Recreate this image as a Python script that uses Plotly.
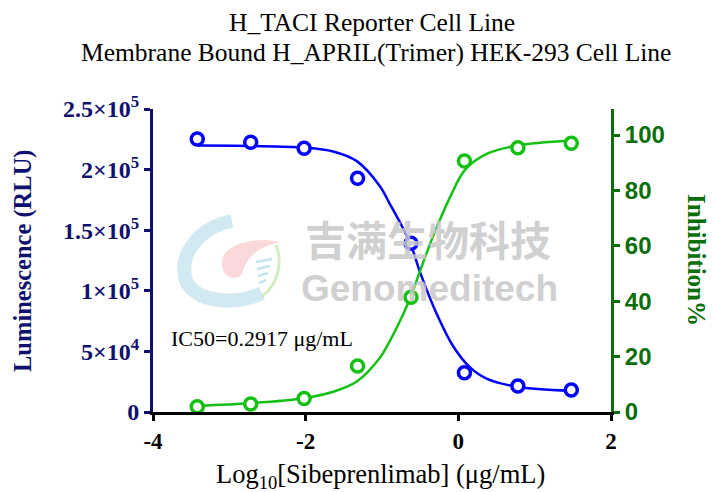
import plotly.graph_objects as go

# ---------------- data ----------------
log_conc = [-3.42, -2.72, -2.02, -1.32, -0.62, 0.08, 0.78, 1.48]
luminescence = [225200, 222500, 217600, 192800, 139200, 32400, 21450, 18150]
inhibition = [1.9, 2.9, 4.9, 16.6, 41.4, 90.6, 95.4, 97.0]

# fitted curves
blue_fit_x = [-3.41, -2.73, -2.02, -1.64, -1.33, -1.03, -0.90, -0.72, -0.61, -0.50, -0.28, -0.07, 0.15, 0.37, 0.77, 1.46]
blue_fit_y = [219800, 219500, 218200, 215000, 207000, 186500, 172000, 151000, 136000, 115000, 80500, 54500, 37000, 27500, 20800, 17500]
green_fit_x = [-3.41, -2.73, -2.02, -1.64, -1.33, -1.03, -0.90, -0.72, -0.61, -0.52, -0.33, -0.11, 0.09, 0.37, 0.77, 1.46]
green_fit_y = [2.3, 3.2, 5.0, 7.3, 11.0, 19.5, 25.5, 35.5, 42.5, 49.5, 63.5, 77.5, 87.5, 93.2, 96.2, 97.9]

x_ticks = [-4, -2, 0, 2]
x_ticklabels = ["-4", "-2", "0", "2"]
left_ticks = [0, 50000, 100000, 150000, 200000, 250000]
left_ticklabels = ["0", "5×10<sup>4</sup>", "1×10<sup>5</sup>", "1.5×10<sup>5</sup>", "2×10<sup>5</sup>", "2.5×10<sup>5</sup>"]
right_ticks = [0, 20, 40, 60, 80, 100]
right_ticklabels = ["0", "20", "40", "60", "80", "100"]

title_line1 = "H_TACI Reporter Cell Line"
title_line2 = "Membrane Bound H_APRIL(Trimer) HEK-293 Cell Line"
x_title = "Log<sub>10</sub>[Sibeprenlimab] (μg/mL)"
left_title = "Luminescence (RLU)"
right_title = "Inhibition%"
ic50_text = "IC50=0.2917 μg/mL"

# ---------------- style ----------------
W, H = 712, 492
L, R, T, B = 153, 611, 109, 412
SERIF = "Liberation Serif, Times New Roman, serif"
SANS = "Liberation Sans, Arial, sans-serif"
NAVY = "#10106e"
DKGREEN = "#0a6e0a"
BLUE = "#0000ff"
GREEN = "#14c014"


def px(x, y):
    return (x - L) / (R - L), (B - y) / (B - T)


def ann(text, x, y, size, color="black", family=SERIF, angle=0, xanchor="center", yanchor="middle"):
    ax, ay = px(x, y)
    return dict(text=text, x=ax, y=ay, xref="paper", yref="paper", showarrow=False,
                font=dict(family=family, size=size, color=color), textangle=angle,
                xanchor=xanchor, yanchor=yanchor)


def path(cmds):
    out = []
    for c in cmds:
        if isinstance(c, str):
            out.append(c)
        else:
            a, b = px(*c)
            out.append(f"{a:.4f},{b:.4f}")
    return " ".join(out)


fig = go.Figure()

fig.add_trace(go.Scatter(x=blue_fit_x, y=blue_fit_y, mode="lines", line=dict(color=BLUE, width=2.5, shape="spline", smoothing=1.0),
                         yaxis="y", showlegend=False, hoverinfo="skip"))
fig.add_trace(go.Scatter(x=green_fit_x, y=green_fit_y, mode="lines", line=dict(color=GREEN, width=2.5, shape="spline", smoothing=1.0),
                         yaxis="y2", showlegend=False, hoverinfo="skip"))
fig.add_trace(go.Scatter(x=log_conc, y=luminescence, mode="markers", yaxis="y", showlegend=False,
                         marker=dict(symbol="circle", size=12, color="white", line=dict(color=BLUE, width=3.5))))
fig.add_trace(go.Scatter(x=log_conc, y=inhibition, mode="markers", yaxis="y2", showlegend=False,
                         marker=dict(symbol="circle", size=12, color="white", line=dict(color=GREEN, width=3.5))))

shapes = [
    # watermark logo: light blue crescent
    dict(type="path", xref="paper", yref="paper", layer="below",
         path=path(["M", (232, 221), "C", (198, 228), (178, 255), (186, 281), "C", (196, 302), (235, 306), (262, 293)]),
         line=dict(color="rgba(190,225,236,0.7)", width=14)),
    # pink swoosh
    dict(type="path", xref="paper", yref="paper", layer="below",
         path=path(["M", (222, 265), "C", (220, 246), (248, 236), (281, 242), "C", (258, 246), (246, 258), (242, 274),
                    "C", (236, 281), (223, 278), (222, 265), "Z"]),
         fillcolor="rgba(244,180,180,0.5)", line=dict(width=0)),
    # green thin arc
    dict(type="path", xref="paper", yref="paper", layer="below",
         path=path(["M", (276, 245), "C", (283, 262), (278, 285), (262, 296)]),
         line=dict(color="rgba(200,230,180,0.8)", width=3)),
]
for i, yy in enumerate([262, 269, 276, 283]):
    shapes.append(dict(type="line", xref="paper", yref="paper", layer="below",
                       x0=px(256 + i, yy)[0], y0=px(256, yy)[1], x1=px(272 - i * 2, yy - 3)[0], y1=px(272, yy - 3)[1],
                       line=dict(color="rgba(180,220,235,0.8)", width=2.5)))

annotations = [
    ann(title_line1, 372, 23, 25.5),
    ann(title_line2, 376, 53, 25.5),
    ann("<b>" + left_title + "</b>", 23, 261, 24.5, color=NAVY, angle=-90),
    ann("<b>" + right_title + "</b>", 697, 260, 25, color=DKGREEN, angle=90),
    ann(x_title, 380, 476, 26.5),
    ann(ic50_text, 169, 338, 22, xanchor="left"),
    ann("<b>吉满生物科技</b>", 428, 238, 41, color="rgba(200,200,200,0.85)", family="Noto Sans CJK SC"),
    ann("<b>Genomeditech</b>", 429, 288, 37, color="rgba(200,200,200,0.85)", family=SANS),
]

fig.update_layout(
    width=W, height=H,
    margin=dict(l=L, r=W - R, t=T, b=H - B, pad=0),
    paper_bgcolor="white", plot_bgcolor="rgba(0,0,0,0)",
    showlegend=False,
    xaxis=dict(range=[-4, 2], tickvals=x_ticks, ticktext=["<b>" + t + "</b>" for t in x_ticklabels],
               showgrid=False, zeroline=False, showline=True, linecolor="black", linewidth=3,
               ticks="outside", ticklen=6, tickwidth=3, tickcolor="black",
               tickfont=dict(family=SERIF, size=23, color="black")),
    yaxis=dict(range=[0, 250000], tickvals=left_ticks, ticktext=["<b>" + t + "</b>" for t in left_ticklabels],
               showgrid=False, zeroline=False, showline=True, linecolor=NAVY, linewidth=3,
               ticks="outside", ticklen=6, tickwidth=3, tickcolor=NAVY,
               tickfont=dict(family=SERIF, size=24, color=NAVY)),
    yaxis2=dict(range=[0, 109.4], overlaying="y", side="right", tickvals=right_ticks,
                ticktext=["<b>" + t + "</b>" for t in right_ticklabels],
                showgrid=False, zeroline=False, showline=True, linecolor=DKGREEN, linewidth=3,
                ticks="outside", ticklen=6, tickwidth=3, tickcolor=DKGREEN,
                tickfont=dict(family=SANS, size=24, color=DKGREEN)),
    shapes=shapes,
    annotations=annotations,
)

fig.write_html("out.html", config={"displayModeBar": False},
               post_script="document.body.style.margin='0px';")
